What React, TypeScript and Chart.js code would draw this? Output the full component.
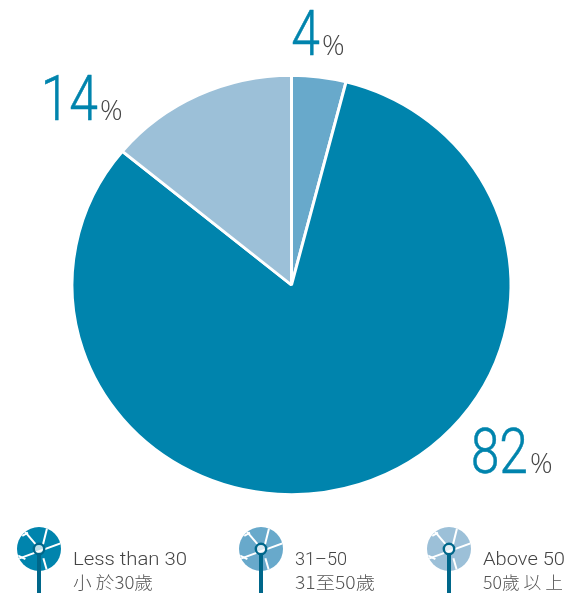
import React, { useEffect, useRef } from "react";
import { Chart, registerables } from "chart.js";

Chart.register(...registerables);

// Age groups, in the clockwise order of the slices from twelve o'clock.
const ageGroupsEn = ["31–50", "Less than 30", "Above 50"];
const ageGroupsZh = ["31至50歲", "小 於30歲", "50歲 以 上"];
const shares = [4, 82, 14];
const sliceColors = ["#68a9cb", "#0084ad", "#9cc0d8"];

const NUMBER_COLOR = "#0084ad";
const PERCENT_COLOR = "#454545";
const STEM_COLOR = "#00678a";

// The pie is drawn slightly flattened, about this centre line.
const PIE_CENTER_Y = 285;
const PIE_Y_SCALE = 0.955;

// Where each slice's percentage is written: right edge of the digits and baseline.
const valueLabelAnchors = [
  { x: 320, y: 55 },
  { x: 528, y: 473 },
  { x: 98, y: 120 },
];

// Legend order across the bottom of the page, as indexes into the slices.
const legendOrder = [1, 0, 2];
const legendIconX = [39, 261, 449];
const legendTextX = [73, 295, 483];
const legendTextWidth = [114, 52, 82];

// Cuts across the pinwheel icon, in units of its radius.
const iconCuts: number[][] = [
  [-0.98, 0.46, 1.0, -0.26],
  [-0.72, -0.88, -0.1, -0.15],
  [0.38, -1.0, 0.18, -0.2],
  [0.2, 0.42, 0.36, 0.98],
  [-0.95, 0.3, -0.62, 0.46],
  [-0.76, -0.6, -0.5, -0.74],
];

function drawIcon(ctx: CanvasRenderingContext2D, cx: number, color: string) {
  const cy = 549;
  const r = 22;
  ctx.save();
  ctx.beginPath();
  ctx.arc(cx, cy, r, 0, Math.PI * 2);
  ctx.fillStyle = color;
  ctx.fill();
  ctx.clip();
  ctx.strokeStyle = "#ffffff";
  ctx.lineWidth = 2;
  for (const [x1, y1, x2, y2] of iconCuts) {
    ctx.beginPath();
    ctx.moveTo(cx + x1 * r, cy + y1 * r);
    ctx.lineTo(cx + x2 * r, cy + y2 * r);
    ctx.stroke();
  }
  ctx.restore();

  ctx.fillStyle = STEM_COLOR;
  ctx.fillRect(cx - 2, cy + 5, 4, 39);
  ctx.beginPath();
  ctx.arc(cx, cy, 5.2, 0, Math.PI * 2);
  ctx.fillStyle = "rgba(255,255,255,0.75)";
  ctx.fill();
  ctx.strokeStyle = STEM_COLOR;
  ctx.lineWidth = 2.4;
  ctx.stroke();
}

function fitText(ctx: CanvasRenderingContext2D, text: string, x: number, y: number, width: number) {
  const natural = ctx.measureText(text).width;
  ctx.save();
  ctx.translate(x, y);
  ctx.scale(width / natural, 1);
  ctx.fillText(text, 0, 0);
  ctx.restore();
}

const flattenPie = {
  id: "flattenPie",
  beforeDatasetsDraw(chart: Chart) {
    const ctx = chart.ctx;
    ctx.save();
    ctx.translate(0, PIE_CENTER_Y);
    ctx.scale(1, PIE_Y_SCALE);
    ctx.translate(0, -PIE_CENTER_Y);
  },
  afterDatasetsDraw(chart: Chart) {
    chart.ctx.restore();
  },
};

const annotations = {
  id: "annotations",
  afterDraw(chart: Chart) {
    const ctx = chart.ctx;
    ctx.save();
    ctx.textBaseline = "alphabetic";
    ctx.textAlign = "left";

    shares.forEach((share, i) => {
      const { x, y } = valueLabelAnchors[i];
      const digits = String(share);
      ctx.font = "300 63px Roboto, sans-serif";
      const xScale = 0.82;
      const w = ctx.measureText(digits).width * xScale;
      ctx.fillStyle = NUMBER_COLOR;
      ctx.strokeStyle = NUMBER_COLOR;
      ctx.lineWidth = 0.5;
      ctx.save();
      ctx.translate(x - w, y);
      ctx.scale(xScale, 1);
      ctx.fillText(digits, 0, 0);
      ctx.strokeText(digits, 0, 0);
      ctx.restore();
      ctx.font = '300 28px "Open Sans", sans-serif';
      ctx.fillStyle = PERCENT_COLOR;
      ctx.fillText("%", x + 2, y);
    });

    legendOrder.forEach((slice, i) => {
      drawIcon(ctx, legendIconX[i], sliceColors[slice]);
      ctx.fillStyle = "#454545";
      ctx.font = "300 18px Roboto, sans-serif";
      fitText(ctx, ageGroupsEn[slice], legendTextX[i], 565, legendTextWidth[i]);
      ctx.fillStyle = "#555555";
      ctx.font = '300 17.5px "Noto Sans CJK TC", sans-serif';
      fitText(ctx, ageGroupsZh[slice], legendTextX[i], 589, 80);
    });
    ctx.restore();
  },
};

export default function App() {
  const canvasRef = useRef<HTMLCanvasElement>(null);

  useEffect(() => {
    const chart = new Chart(canvasRef.current!, {
      type: "pie",
      data: {
        labels: ageGroupsEn,
        datasets: [
          {
            data: shares,
            backgroundColor: sliceColors,
            borderColor: "#ffffff",
            borderWidth: 3,
            borderAlign: "center",
            hoverOffset: 0,
          },
        ],
      },
      options: {
        responsive: false,
        animation: false,
        layout: { padding: { left: 70, right: 66, top: 64, bottom: 90 } },
        plugins: {
          legend: { display: false },
          tooltip: { enabled: false },
        },
      },
      plugins: [flattenPie, annotations],
    });
    return () => chart.destroy();
  }, []);

  return (
    <div style={{ position: "fixed", left: 0, top: 0, width: 579, height: 596, background: "#ffffff" }}>
      <canvas ref={canvasRef} width={579} height={596} style={{ display: "block" }} />
    </div>
  );
}
